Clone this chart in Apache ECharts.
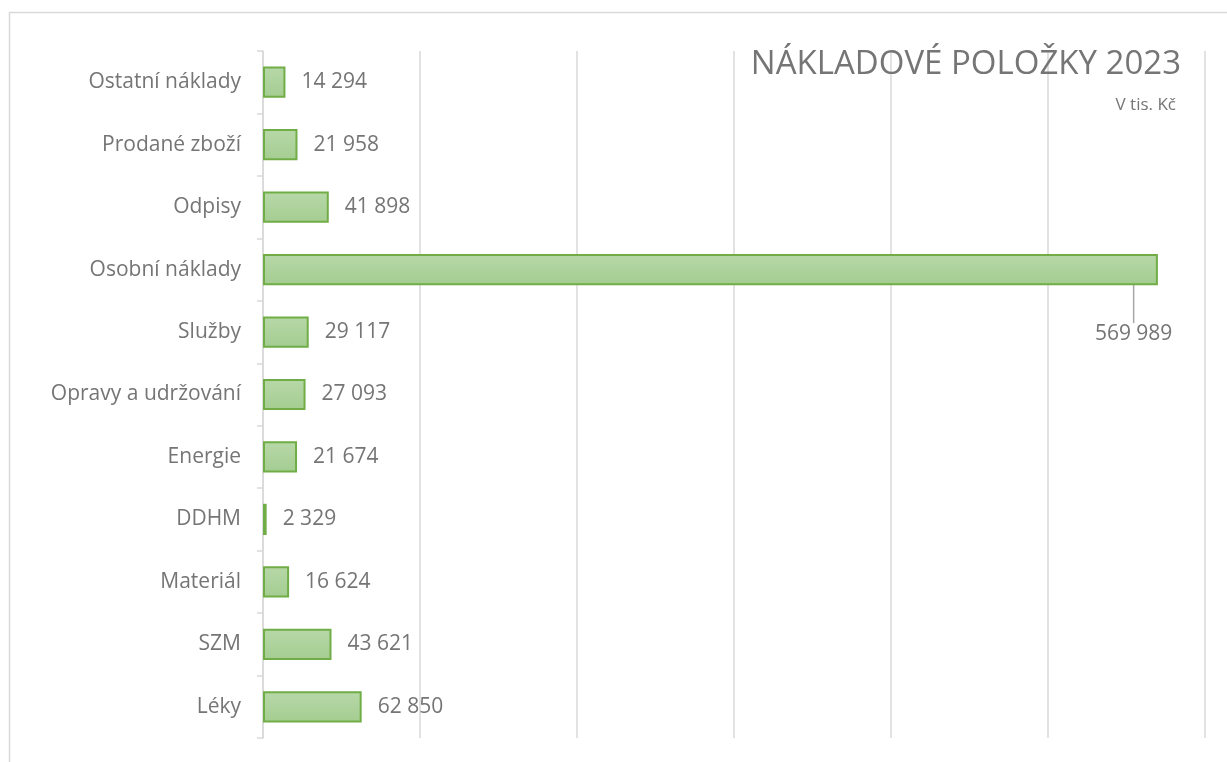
<!DOCTYPE html>
<html>
<head>
<meta charset="utf-8">
<script src="https://cdn.jsdelivr.net/npm/echarts@6/dist/echarts.min.js"></script>
<style>
  html, body { margin: 0; padding: 0; background: #fff; }
  #chart { width: 1227px; height: 762px; }
</style>
</head>
<body>
<div id="chart"></div>
<script>
  // categories bottom -> top (ECharts category y-axis starts at bottom)
  var categories = ['Léky', 'SZM', 'Materiál', 'DDHM', 'Energie', 'Opravy a udržování',
                    'Služby', 'Osobní náklady', 'Odpisy', 'Prodané zboží', 'Ostatní náklady'];
  var values = [62850, 43621, 16624, 2329, 21674, 27093, 29117, 569989, 41898, 21958, 14294];
  var axisMax = 600000;
  var axisStep = 100000;

  var font = '"Open Sans", sans-serif';
  var chart = echarts.init(document.getElementById('chart'));

  function fmt(v) {
    return String(v).replace(/\B(?=(\d{3})+(?!\d))/g, ' ');
  }

  // the largest bar gets its label moved below with a leader line
  var maxIdx = values.indexOf(Math.max.apply(null, values));
  var barData = values.map(function (v, i) {
    if (i === maxIdx) {
      return { value: v, labelLine: { show: true } };
    }
    return v;
  });

  chart.setOption({
    animation: false,
    title: [{
      text: 'NÁKLADOVÉ POLOŽKY 2023',
      right: 41,
      top: 43,
      textStyle: { color: '#757575', fontSize: 33, fontWeight: 'normal', fontFamily: font }
    }, {
      text: 'V tis. Kč',
      right: 46,
      top: 92,
      textStyle: { color: '#757575', fontSize: 17, fontWeight: 'normal', fontFamily: font }
    }],
    graphic: [{
      type: 'rect',
      shape: { x: 9.5, y: 12.5, width: 1240, height: 800 },
      style: { fill: 'none', stroke: '#d9d9d9', lineWidth: 1.5 },
      silent: true
    }],
    grid: { left: 263, right: 22, top: 51, bottom: 24, containLabel: false },
    xAxis: {
      type: 'value',
      min: 0,
      max: axisMax,
      interval: axisStep,
      axisLabel: { show: false },
      axisLine: { show: false },
      axisTick: { show: false },
      splitLine: { lineStyle: { color: '#d9d9d9', width: 1.5 } }
    },
    yAxis: {
      type: 'category',
      data: categories,
      axisLine: { lineStyle: { color: '#d9d9d9', width: 1.5 } },
      axisTick: { show: true, length: 6, lineStyle: { color: '#d9d9d9', width: 1.5 } },
      axisLabel: { color: '#757575', fontSize: 21, fontFamily: font, margin: 22 }
    },
    series: [{
      type: 'bar',
      data: barData,
      barWidth: '50%',
      itemStyle: {
        color: new echarts.graphic.LinearGradient(0, 0, 0, 1, [
          { offset: 0, color: '#b7d8a8' },
          { offset: 1, color: '#a4cd91' }
        ]),
        borderColor: '#70ad47',
        borderWidth: 2
      },
      label: {
        show: true,
        position: 'right',
        distance: 16,
        color: '#757575',
        fontSize: 21,
        fontFamily: font,
        formatter: function (p) { return fmt(p.value); }
      },
      labelLine: {
        show: false,
        lineStyle: { color: '#a6a6a6', width: 1.5 }
      },
      labelLayout: function (p) {
        if (p.dataIndex === maxIdx) {
          return { dx: -79, dy: 64 };
        }
        return {};
      }
    }]
  });
</script>
</body>
</html>
